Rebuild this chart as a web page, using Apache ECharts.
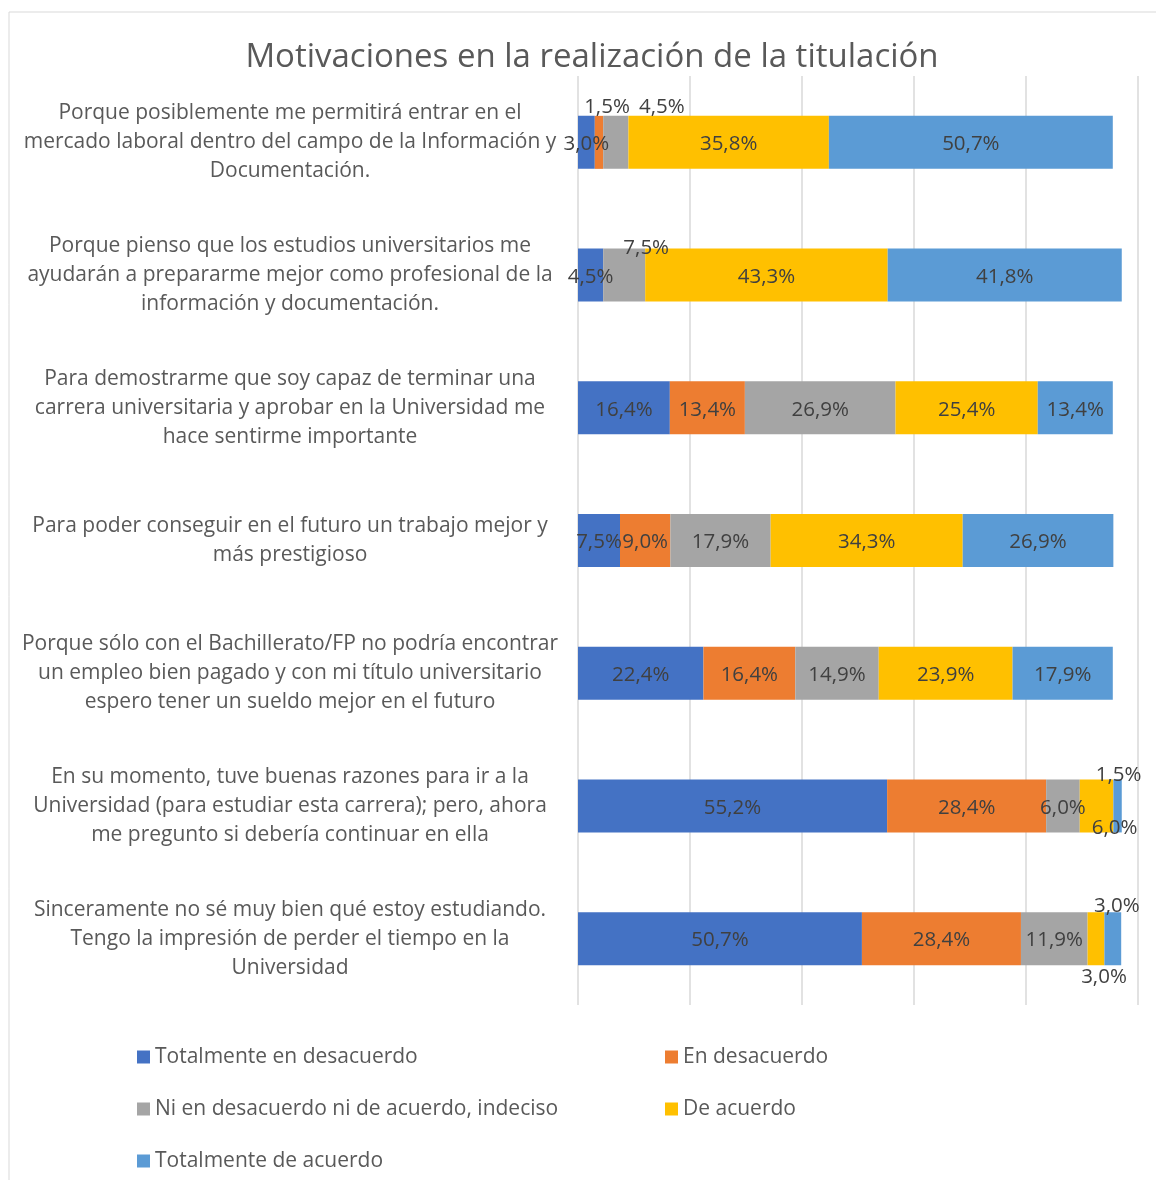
<!DOCTYPE html>
<html>
<head>
<meta charset="utf-8">
<script src="https://cdn.jsdelivr.net/npm/echarts@6/dist/echarts.min.js"></script>
<style>
  html, body { margin: 0; padding: 0; background: #fff; }
  #main { width: 1156px; height: 1180px; }
</style>
</head>
<body>
<div id="main"></div>
<script>
const categories = [
  "Porque posiblemente me permitirá entrar en el\nmercado laboral dentro del campo de la Información y\nDocumentación.",
  "Porque pienso que los estudios universitarios me\nayudarán a prepararme mejor como profesional de la\ninformación y documentación.",
  "Para demostrarme que soy capaz de terminar una\ncarrera universitaria y aprobar en la Universidad me\nhace sentirme importante",
  "Para poder conseguir en el futuro un trabajo mejor y\nmás prestigioso",
  "Porque sólo con el Bachillerato/FP no podría encontrar\nun empleo bien pagado y con mi título universitario\nespero tener un sueldo mejor en el futuro",
  "En su momento, tuve buenas razones para ir a la\nUniversidad (para estudiar esta carrera); pero, ahora\nme pregunto si debería continuar en ella",
  "Sinceramente no sé muy bien qué estoy estudiando.\nTengo la impresión de perder el tiempo en la\nUniversidad"
];

const totalDesacuerdo = [3.0, 4.5, 16.4, 7.5, 22.4, 55.2, 50.7];
const enDesacuerdo = [1.5, 0, 13.4, 9.0, 16.4, 28.4, 28.4];
const indeciso = [4.5, 7.5, 26.9, 17.9, 14.9, 6.0, 11.9];
const deAcuerdo = [35.8, 43.3, 25.4, 34.3, 23.9, 6.0, 3.0];
const totalAcuerdo = [50.7, 41.8, 13.4, 26.9, 17.9, 1.5, 3.0];

const seriesNames = [
  "Totalmente en desacuerdo",
  "En desacuerdo",
  "Ni en desacuerdo ni de acuerdo, indeciso",
  "De acuerdo",
  "Totalmente de acuerdo"
];
const seriesData = [totalDesacuerdo, enDesacuerdo, indeciso, deAcuerdo, totalAcuerdo];
const colors = ["#4472C4", "#ED7D31", "#A5A5A5", "#FFC000", "#5B9BD5"];

// labels that Excel moved outside the small segments
const labelTweaks = {
  "1-0": { position: "top", distance: -1, offset: [8, 1] },
  "2-0": { position: "top", distance: -1, offset: [46, 1] },
  "2-1": { position: "top", distance: -9, offset: [22, 1] },
  "4-5": { position: "top", distance: -5, offset: [1, 1] },
  "3-5": { position: "bottom", distance: -16, offset: [18, 1] },
  "4-6": { position: "top", distance: -4, offset: [4, 1] },
  "3-6": { position: "bottom", distance: 1, offset: [8, 1] }
};

const fmt = (v) => v.toFixed(1).replace(".", ",") + "%";
const FONT = "Open Sans";

const series = seriesNames.map((name, s) => ({
  name: name,
  type: "bar",
  stack: "total",
  barWidth: 53,
  itemStyle: { color: colors[s] },
  label: {
    show: true,
    position: "inside",
    offset: [0, 2],
    color: "#404040",
    fontSize: 20.5,
    fontFamily: FONT,
    formatter: (p) => (p.value ? fmt(p.value) : "")
  },
  data: seriesData[s].map((v, i) => {
    const t = labelTweaks[s + "-" + i];
    return t ? { value: v, label: t } : v;
  })
}));

const myChart = echarts.init(document.getElementById("main"));
myChart.setOption({
  animation: false,
  textStyle: { fontFamily: FONT },
  graphic: [{
    type: "rect",
    shape: { x: 9, y: 12, width: 1300, height: 1300 },
    style: { fill: "none", stroke: "#d9d9d9", lineWidth: 1 },
    silent: true
  }],
  title: {
    text: "Motivaciones en la realización de la titulación",
    left: 587,
    textAlign: "center",
    top: 36,
    textStyle: { fontSize: 33, fontWeight: "normal", color: "#595959", fontFamily: FONT }
  },
  grid: { left: 578, right: 18, top: 76, bottom: 175, containLabel: false },
  xAxis: {
    type: "value",
    min: 0,
    max: 100,
    interval: 20,
    axisLabel: { show: false },
    axisLine: { show: false },
    axisTick: { show: false },
    splitLine: { lineStyle: { color: "#d9d9d9", width: 1.5 } }
  },
  yAxis: {
    type: "category",
    inverse: true,
    data: categories,
    axisLine: { show: false },
    axisTick: { show: false },
    axisLabel: {
      align: "center",
      margin: 288,
      color: "#595959",
      fontSize: 21,
      lineHeight: 29,
      padding: [4, 0, 0, 0],
      fontFamily: FONT
    }
  },
  legend: {
    left: 132,
    top: 1026,
    width: 1080,
    itemGap: 0,
    itemWidth: 13,
    itemHeight: 13,
    icon: "rect",
    textStyle: { color: "#595959", fontSize: 21, width: 510, lineHeight: 52, fontFamily: FONT },
    data: seriesNames
  },
  series: series
});
</script>
</body>
</html>
